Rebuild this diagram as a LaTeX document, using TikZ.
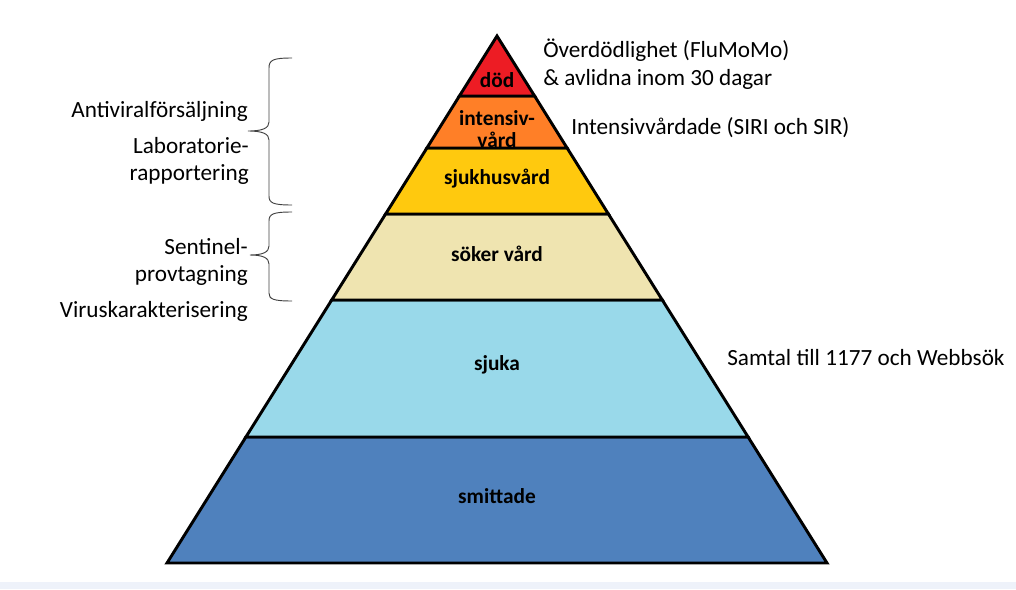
\documentclass[tikz,border=0pt]{standalone}
\usepackage{fontspec}
\setmainfont{Carlito}
\definecolor{dodred}{RGB}{237,28,36}
\definecolor{ivaorange}{RGB}{255,127,39}
\definecolor{sjhyellow}{RGB}{255,201,14}
\definecolor{sokertan}{RGB}{239,228,176}
\definecolor{sjukablue}{RGB}{153,217,234}
\definecolor{smittblue}{RGB}{79,129,189}
\definecolor{bandgray}{RGB}{238,242,250}
\tikzset{
  layer/.style={draw=black, line width=2.2pt},
  lab/.style={font=\fontsize{16}{17}\selectfont\bfseries, align=center, inner sep=0pt},
  src/.style={font=\fontsize{17.4}{20.8}\selectfont, inner sep=0pt},
  brc/.style={draw=black!75, line width=0.7pt}
}
\begin{document}
\begin{tikzpicture}[x=0.75pt, y=-0.75pt]
\useasboundingbox (0,0) rectangle (1016,589);
\fill[bandgray] (0,582) rectangle (1016,589);
% pyramid layers, top to bottom
\filldraw[layer, fill=smittblue] (245.9,437) -- (748.1,437) -- (827,563) -- (167,563) -- cycle;
\filldraw[layer, fill=sjukablue] (331.7,300) -- (662.3,300) -- (748.1,437) -- (245.9,437) -- cycle;
\filldraw[layer, fill=sokertan] (385.6,214) -- (608.4,214) -- (662.3,300) -- (331.7,300) -- cycle;
\filldraw[layer, fill=sjhyellow] (426.9,148) -- (567.1,148) -- (608.4,214) -- (385.6,214) -- cycle;
\filldraw[layer, fill=ivaorange] (459.4,96) -- (534.6,96) -- (567.1,148) -- (426.9,148) -- cycle;
\filldraw[layer, fill=dodred] (497,36) -- (534.6,96) -- (459.4,96) -- cycle;
\node[lab] (dod) at (497,80) {död};
\node[lab, font=\fontsize{16}{16.5}\selectfont\bfseries] (intensiv) at (497,129) {intensiv-\\vård};
\node[lab] (sjukhus) at (497,179) {sjukhusvård};
\node[lab] (soker) at (497,254) {söker vård};
\node[lab] (sjuka) at (497,365) {sjuka};
\node[lab] (smittade) at (497,496) {smittade};
% data sources
\node[src, anchor=west, align=left] (flumomo) at (543,64) {Överdödlighet (FluMoMo)\\\& avlidna inom 30 dagar};
\node[src, anchor=west] (siri) at (571,128) {Intensivvårdade (SIRI och SIR)};
\node[src, anchor=west] (samtal) at (727,358) {Samtal till 1177 och Webbsök};
\node[src, anchor=east] (antiviral) at (248,111) {Antiviralförsäljning};
\node[src, anchor=east, align=right] (labrapp) at (249,161) {Laboratorie-\\rapportering};
\node[src, anchor=east, align=right] (sentinel) at (248,262) {Sentinel-\\provtagning};
\node[src, anchor=east] (virus) at (248,311) {Viruskarakterisering};
% braces
\draw[brc] (292,58) .. controls (273,58) and (269,60) .. (269,68) -- (269,122)
  .. controls (269,128) and (263,131) .. (248,131)
  .. controls (263,131) and (269,134) .. (269,140) -- (269,196)
  .. controls (269,203) and (273,205) .. (292,205);
\draw[brc] (292,212) .. controls (273,212) and (269,214) .. (269,221) -- (269,246)
  .. controls (269,252) and (263,255) .. (250,255)
  .. controls (263,255) and (269,258) .. (269,264) -- (269,293)
  .. controls (269,299) and (273,301) .. (292,301);
\end{tikzpicture}
\end{document}
